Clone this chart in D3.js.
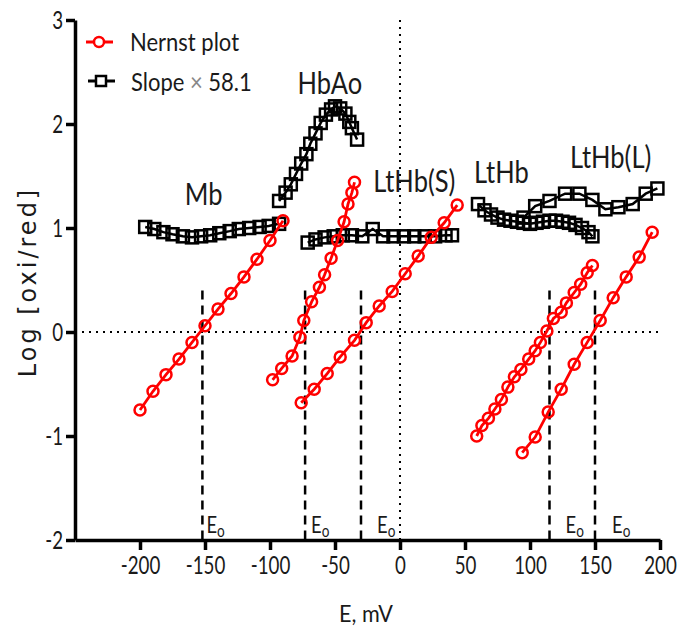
<!DOCTYPE html>
<html>
<head>
<meta charset="utf-8">
<script src="https://cdn.jsdelivr.net/npm/d3@7"></script>
<style>
  body { margin: 0; background: #fff; }
  svg { display: block; }
  text { font-family: Lato, "Noto Sans", sans-serif; fill: #1a1a1a; }
</style>
</head>
<body>
<div id="chart"></div>
<script>
// Nernst plots: E (mV) and log[oxi/red]
const mbE = [-200, -190, -180, -170, -160, -150, -140, -130, -120, -110, -100, -90];
const mbLog = [-0.75, -0.57, -0.41, -0.26, -0.10, 0.06, 0.22, 0.37, 0.53, 0.70, 0.88, 1.07];

const hbE = [-98, -91, -83, -77, -74, -68, -62, -58, -53, -48, -43, -40, -37, -35];
const hbLog = [-0.46, -0.35, -0.23, -0.05, 0.11, 0.29, 0.43, 0.55, 0.71, 0.88, 1.06, 1.23, 1.34, 1.44];

const ltsE = [-76, -66, -56, -46, -35, -26, -16, -6, 4, 14, 24, 34, 44];
const ltsLog = [-0.68, -0.55, -0.40, -0.24, -0.08, 0.09, 0.25, 0.39, 0.56, 0.73, 0.91, 1.05, 1.22];

const lthE = [59, 63, 68, 73, 78, 83, 88, 93, 99, 104, 108, 113, 118, 124, 128, 134, 139, 144, 148];
const lthLog = [-1.00, -0.90, -0.83, -0.74, -0.65, -0.53, -0.43, -0.36, -0.26, -0.18, -0.10, 0.01, 0.13, 0.19, 0.28, 0.38, 0.46, 0.57, 0.64];

const ltlE = [94, 104, 114, 124, 134, 144, 154, 164, 174, 184, 194];
const ltlLog = [-1.16, -1.01, -0.77, -0.55, -0.31, -0.10, 0.11, 0.33, 0.53, 0.72, 0.96];

// slope x 58.1 curves
const mbSlopeE = [-196, -189, -182, -175, -167, -160, -153, -146, -139, -131, -124, -116, -108, -101, -93];
const mbSlope = [1.01, 0.99, 0.96, 0.94, 0.92, 0.91, 0.92, 0.93, 0.95, 0.97, 0.99, 1.00, 1.01, 1.02, 1.04];

const hbSlopeE = [-93, -88, -84, -80, -76, -72, -69, -65, -61, -57, -53, -50, -46, -42, -39, -37, -33];
const hbSlope = [1.26, 1.34, 1.42, 1.52, 1.62, 1.71, 1.81, 1.91, 2.01, 2.09, 2.14, 2.17, 2.15, 2.10, 2.02, 1.96, 1.85];

const ltsSlopeE = [-71, -65, -58, -51, -44, -37, -29, -21, -13, -5, 3, 11, 19, 27, 35, 40];
const ltsSlope = [0.86, 0.89, 0.91, 0.92, 0.93, 0.93, 0.92, 0.99, 0.92, 0.92, 0.92, 0.92, 0.92, 0.92, 0.93, 0.93];

const lthSlopeE = [60, 65, 70, 75, 80, 85, 90, 95, 100, 105, 110, 115, 120, 125, 130, 135, 140, 145, 148];
const lthSlope = [1.23, 1.17, 1.13, 1.10, 1.08, 1.07, 1.06, 1.05, 1.04, 1.05, 1.06, 1.07, 1.07, 1.06, 1.05, 1.03, 1.00, 0.96, 0.92];

const ltlSlopeE = [95, 104, 115, 127, 138, 148, 158, 168, 179, 189, 198];
const ltlSlope = [1.10, 1.21, 1.26, 1.33, 1.33, 1.27, 1.18, 1.20, 1.23, 1.33, 1.38];

// midpoint potentials
const e0Values = [-152, -73, -30, 115, 150];

const proteinNames = ['Mb', 'HbAo', 'LtHb(S)', 'LtHb', 'LtHb(L)'];
const proteinLabelAt = [[-151, 1.22], [-54, 2.29], [11, 1.35], [78, 1.43], [162, 1.58]];

const xTicks = [-200, -150, -100, -50, 0, 50, 100, 150, 200];
const yTicks = [-2, -1, 0, 1, 2, 3];

const width = 677, height = 629;
const red = '#ff0000';

const svg = d3.select('#chart').append('svg')
    .attr('width', width)
    .attr('height', height);

const x = d3.scaleLinear().domain([-250, 200]).range([75, 660]);
const y = d3.scaleLinear().domain([-2, 3]).range([540, 20]);

const zip = (xs, ys) => xs.map((v, i) => [v, ys[i]]);

// the source font is narrow, so squeeze Lato sideways
function narrowText(parent, px, py, str, size, sx, anchor) {
    return parent.append('text')
        .attr('transform', `translate(${px},${py}) scale(${sx},1)`)
        .attr('text-anchor', anchor || 'start')
        .attr('font-size', size)
        .text(str);
}

const nernst = [
    zip(mbE, mbLog), zip(hbE, hbLog), zip(ltsE, ltsLog), zip(lthE, lthLog), zip(ltlE, ltlLog)
];
const slopes = [
    zip(mbSlopeE, mbSlope), zip(hbSlopeE, hbSlope), zip(ltsSlopeE, ltsSlope),
    zip(lthSlopeE, lthSlope), zip(ltlSlopeE, ltlSlope)
];

// reference lines
svg.append('line')
    .attr('x1', x(-250)).attr('x2', x(200))
    .attr('y1', y(0)).attr('y2', y(0))
    .attr('stroke', '#000').attr('stroke-width', 2)
    .attr('stroke-dasharray', '2,5');

svg.append('line')
    .attr('x1', x(0)).attr('x2', x(0))
    .attr('y1', y(3)).attr('y2', y(-2))
    .attr('stroke', '#000').attr('stroke-width', 2)
    .attr('stroke-dasharray', '2,5');

svg.selectAll('.e0')
    .data(e0Values)
    .enter()
    .append('line')
    .attr('class', 'e0')
    .attr('x1', d => x(d)).attr('x2', d => x(d))
    .attr('y1', y(0.4)).attr('y2', y(-2))
    .attr('stroke', '#000').attr('stroke-width', 2.5)
    .attr('stroke-dasharray', '9,6');

const e0LabelDx = [4, 6, 16, 16, 17];
e0Values.forEach((d, i) => {
    const t = narrowText(svg, x(d) + e0LabelDx[i], 533, '', 23, 0.8);
    t.append('tspan').text('E');
    t.append('tspan').attr('dy', 4).attr('font-size', 17).text('o');
});

// lines + markers
const line = d3.line().x(d => x(d[0])).y(d => y(d[1]));

svg.selectAll('.slope-line')
    .data(slopes)
    .enter()
    .append('path')
    .attr('d', line)
    .attr('fill', 'none')
    .attr('stroke', '#000')
    .attr('stroke-width', 2.5);

slopes.forEach(s => {
    svg.append('g').selectAll('rect')
        .data(s)
        .enter()
        .append('rect')
        .attr('x', d => x(d[0]) - 6)
        .attr('y', d => y(d[1]) - 6)
        .attr('width', 12)
        .attr('height', 12)
        .attr('fill', 'none')
        .attr('stroke', '#000')
        .attr('stroke-width', 2.5);
});

svg.selectAll('.nernst-line')
    .data(nernst)
    .enter()
    .append('path')
    .attr('d', line)
    .attr('fill', 'none')
    .attr('stroke', red)
    .attr('stroke-width', 2.8);

nernst.forEach(s => {
    svg.append('g').selectAll('circle')
        .data(s)
        .enter()
        .append('circle')
        .attr('cx', d => x(d[0]))
        .attr('cy', d => y(d[1]))
        .attr('r', 5.5)
        .attr('fill', 'none')
        .attr('stroke', red)
        .attr('stroke-width', 2.5);
});

// protein labels
proteinNames.forEach((name, i) => {
    narrowText(svg, x(proteinLabelAt[i][0]), y(proteinLabelAt[i][1]), name, 30, 0.85, 'middle');
});

// axes
const xAxis = svg.append('g')
    .attr('transform', `translate(0,${y(-2)})`)
    .call(d3.axisBottom(x).tickValues(xTicks).tickFormat(d => String(d))
        .tickSize(10).tickSizeOuter(0).tickPadding(6));

const yAxis = svg.append('g')
    .attr('transform', `translate(${x(-250)},0)`)
    .call(d3.axisLeft(y).tickValues(yTicks).tickFormat(d => String(d))
        .tickSize(9).tickSizeOuter(0).tickPadding(3));

[xAxis, yAxis].forEach(a => {
    a.select('.domain').attr('stroke-width', 3.5).attr('stroke', '#000');
    a.selectAll('.tick line').attr('stroke-width', 3.5).attr('stroke', '#000');
    a.selectAll('.tick text')
        .attr('font-size', 25)
        .attr('font-family', 'Lato, sans-serif')
        .attr('fill', '#1a1a1a')
        .attr('transform', 'scale(0.75,1)');
});
yAxis.selectAll('.tick text').attr('x', -12 / 0.75);

// axis titles
narrowText(svg, 366, 622, 'E, mV', 24, 0.9, 'middle');

svg.append('text')
    .attr('transform', `translate(36,${y(0.5) + 2}) rotate(-90)`)
    .attr('text-anchor', 'middle')
    .attr('font-size', 24)
    .attr('letter-spacing', 3)
    .style('font-family', '"DejaVu Sans", sans-serif')
    .text('Log [oxi/red]');

// legend
const legend = svg.append('g');
legend.append('line')
    .attr('x1', 86).attr('x2', 113).attr('y1', 42).attr('y2', 42)
    .attr('stroke', red).attr('stroke-width', 3);
legend.append('circle')
    .attr('cx', 99).attr('cy', 42).attr('r', 5)
    .attr('fill', '#fff').attr('stroke', red).attr('stroke-width', 2.5);
narrowText(legend, 130, 51, 'Nernst plot', 25, 0.88);

legend.append('line')
    .attr('x1', 88).attr('x2', 115).attr('y1', 81).attr('y2', 81)
    .attr('stroke', '#000').attr('stroke-width', 3);
legend.append('rect')
    .attr('x', 96).attr('y', 76).attr('width', 10).attr('height', 10)
    .attr('fill', '#fff').attr('stroke', '#000').attr('stroke-width', 2.5);
const slopeLabel = narrowText(legend, 131, 91, '', 25, 0.88);
slopeLabel.append('tspan').text('Slope ');
slopeLabel.append('tspan').style('fill', '#888').text('×');
slopeLabel.append('tspan').text(' 58.1');
</script>
</body>
</html>
